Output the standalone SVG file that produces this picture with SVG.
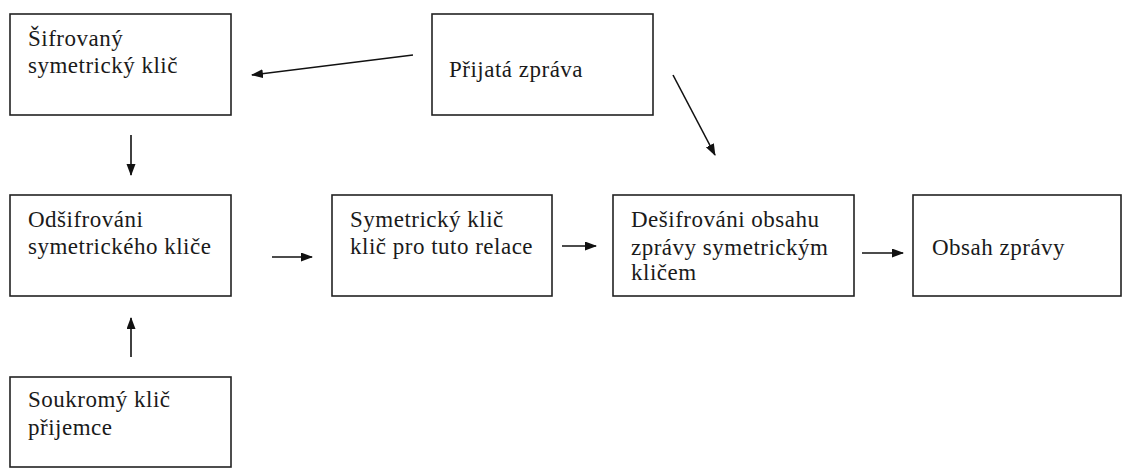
<svg xmlns="http://www.w3.org/2000/svg" width="1125" height="470" viewBox="0 0 1125 470">
<style>
.box{fill:#fff;stroke:#222;stroke-width:1.6}
.t{font-family:'Liberation Serif','DejaVu Serif',serif;font-size:23px;fill:#1a1a1a;letter-spacing:0.5px}
.c{stroke:#111;stroke-width:1.6;fill:none}
</style>
<defs>
<marker id="ah" markerUnits="userSpaceOnUse" markerWidth="12" markerHeight="10" refX="11" refY="4.5" orient="auto">
<path d="M0,0 L12,4.5 L0,9 z" fill="#111"/>
</marker>
</defs>
<rect width="1125" height="470" fill="#fff"/>
<g id="sifrovany">
<rect class="box" x="10" y="14" width="221" height="101"/>
<text class="t" x="28" y="46">Šifrovaný</text>
<text class="t" x="28" y="73">symetrický klič</text>
</g>
<g id="prijata">
<rect class="box" x="432" y="14" width="221" height="101"/>
<text class="t" x="449" y="77">Přijatá zpráva</text>
</g>
<g id="odsifrovani">
<rect class="box" x="10" y="195" width="221" height="101"/>
<text class="t" x="28" y="227">Odšifrováni</text>
<text class="t" x="28" y="254">symetrického kliče</text>
</g>
<g id="symetricky">
<rect class="box" x="332" y="195" width="220" height="101"/>
<text class="t" x="350" y="227">Symetrický klič</text>
<text class="t" x="350" y="254">klič pro tuto relace</text>
</g>
<g id="desifrovani">
<rect class="box" x="613" y="195" width="241" height="101"/>
<text class="t" x="631" y="227">Dešifrováni obsahu</text>
<text class="t" x="631" y="255">zprávy symetrickým</text>
<text class="t" x="631" y="280">kličem</text>
</g>
<g id="obsah">
<rect class="box" x="913" y="195" width="208" height="101"/>
<text class="t" x="932" y="255">Obsah zprávy</text>
</g>
<g id="soukromy">
<rect class="box" x="10" y="377" width="221" height="90"/>
<text class="t" x="28" y="407">Soukromý klič</text>
<text class="t" x="28" y="435">přijemce</text>
</g>
<g id="connectors">
<line class="c" x1="413" y1="55" x2="252" y2="75" marker-end="url(#ah)"/>
<line class="c" x1="131" y1="135" x2="131" y2="175" marker-end="url(#ah)"/>
<line class="c" x1="673" y1="75" x2="715" y2="155" marker-end="url(#ah)"/>
<line class="c" x1="131" y1="357" x2="131" y2="318" marker-end="url(#ah)"/>
<line class="c" x1="272" y1="257" x2="312" y2="257" marker-end="url(#ah)"/>
<line class="c" x1="562" y1="246" x2="596" y2="246" marker-end="url(#ah)"/>
<line class="c" x1="862" y1="253" x2="903" y2="253" marker-end="url(#ah)"/>
</g>
</svg>
